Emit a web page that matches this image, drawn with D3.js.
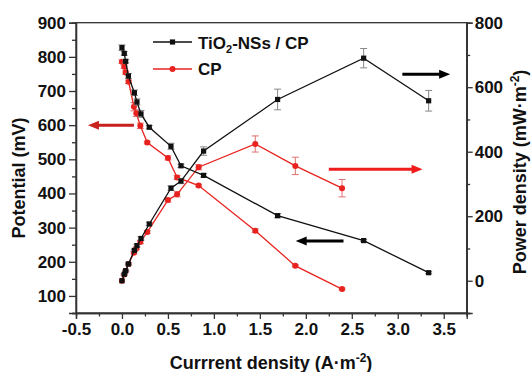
<!DOCTYPE html>
<html>
<head>
<meta charset="utf-8">
<script src="https://cdn.jsdelivr.net/npm/d3@7/dist/d3.min.js"></script>
<style>
  html, body { margin: 0; padding: 0; background: #fff; }
  svg { display: block; }
  text { font-family: "Liberation Sans", Arial, sans-serif; font-weight: bold; fill: #111; }
</style>
</head>
<body>
<svg id="chart" width="531" height="372"></svg>
<script>
// ---------------- data ----------------
const seriesNames = ["TiO2-NSs / CP", "CP"];

const currentT   = [0, 0.025, 0.04, 0.07, 0.135, 0.163, 0.207, 0.297, 0.533, 0.642, 0.888, 1.693, 2.629, 3.336];
const potentialT = [827, 810, 787, 744, 695, 668, 633, 594, 538, 481, 453, 335, 262, 168];
const potErrT    = [8, 5, 5, 7, 8, 9, 10, 5, 9, 5, 5, 6, 3, 3];
const powerT     = [0, 20, 31, 52, 94, 109, 131, 176, 287, 309, 402, 562, 690, 558];
const powErrT    = [0, 2, 2, 3, 4, 4, 5, 5, 7, 8, 13, 32, 30, 32];

const currentC   = [0, 0.025, 0.04, 0.072, 0.13, 0.156, 0.2, 0.275, 0.5, 0.6, 0.834, 1.45, 1.886, 2.394];
const potentialC = [786, 771, 754, 727, 654, 635, 598, 549, 504, 447, 423, 291, 188, 120];
const potErrC    = [5, 5, 5, 5, 12, 10, 8, 4, 6, 6, 4, 5, 3, 3];
const powerC     = [0, 19, 30, 52, 87, 100, 120, 151, 250, 268, 352, 424, 356, 287];
const powErrC    = [0, 2, 2, 3, 4, 4, 5, 5, 6, 8, 8, 25, 27, 27];

const xTicks      = [-0.5, 0, 0.5, 1.0, 1.5, 2.0, 2.5, 3.0, 3.5];
const xMinorTicks = [-0.25, 0.25, 0.75, 1.25, 1.75, 2.25, 2.75, 3.25, 3.75];
const yLeftTicks  = [100, 200, 300, 400, 500, 600, 700, 800, 900];
const yLeftMinor  = [50, 150, 250, 350, 450, 550, 650, 750, 850];
const yRightTicks = [0, 200, 400, 600, 800];
const yRightMinor = [-100, 100, 300, 500, 700];

// annotation arrows: from x1 to tip x2 at value y on given axis
const arrowX1   = [0.13, 3.05, 2.25, 2.41];
const arrowX2   = [-0.37, 3.57, 3.27, 1.89];
const arrowY    = [600, 640, 346, 261];
const arrowAxis = ["left", "right", "right", "left"];
const arrowCol  = ["#c8211e", "#000000", "#ee1c1c", "#000000"];

// ---------------- layout ----------------
const svg = d3.select("#chart");
const L = 76, R = 466.7, T = 22.7, B = 313;
const BLACK = "#111111", RED = "#e8231f";

const x  = d3.scaleLinear().domain([-0.5, 3.75]).range([L, R]);
const yL = d3.scaleLinear().domain([50, 900]).range([B, T]);
const yR = d3.scaleLinear().domain([-100, 800]).range([B, T]);

const fmtX = v => d3.format(".1f")(v).replace("\u2212", "-");

// frame
svg.append("rect").attr("x", L).attr("y", T).attr("width", R - L).attr("height", B - T)
  .attr("fill", "none").attr("stroke", "#333").attr("stroke-width", 1.3);

function styleAxis(g) {
  g.select(".domain").attr("stroke", "#333").attr("stroke-width", 1.3);
  g.selectAll(".tick line").attr("stroke", "#333").attr("stroke-width", 1.3);
  g.selectAll(".tick text").style("font-size", "17px").style("font-weight", "bold").attr("fill", "#111");
}

// x axis
const gx = svg.append("g").attr("transform", `translate(0,${B})`)
  .call(d3.axisBottom(x).tickValues(xTicks).tickFormat(fmtX).tickSize(6).tickPadding(4));
styleAxis(gx);
const gxm = svg.append("g").attr("transform", `translate(0,${B})`)
  .call(d3.axisBottom(x).tickValues(xMinorTicks).tickFormat("").tickSize(3.5));
styleAxis(gxm);

// left axis
const gl = svg.append("g").attr("transform", `translate(${L},0)`)
  .call(d3.axisLeft(yL).tickValues(yLeftTicks).tickFormat(d3.format("d")).tickSize(7).tickPadding(3));
styleAxis(gl);
const glm = svg.append("g").attr("transform", `translate(${L},0)`)
  .call(d3.axisLeft(yL).tickValues(yLeftMinor).tickFormat("").tickSize(4));
styleAxis(glm);

// right axis
const gr = svg.append("g").attr("transform", `translate(${R},0)`)
  .call(d3.axisRight(yR).tickValues(yRightTicks).tickFormat(d3.format("d")).tickSize(6).tickPadding(2));
styleAxis(gr);
const grm = svg.append("g").attr("transform", `translate(${R},0)`)
  .call(d3.axisRight(yR).tickValues(yRightMinor).tickFormat("").tickSize(3.5));
styleAxis(grm);

// ---------------- series ----------------
function drawSeries(xs, ys, errs, yScale, color, errColor, marker) {
  const pts = xs.map((v, i) => ({ x: v, y: ys[i], e: errs[i] }));
  const g = svg.append("g");
  // error bars
  const eb = g.selectAll(".eb").data(pts.filter(d => d.e > 0)).enter().append("g")
    .attr("stroke", errColor).attr("stroke-width", 1);
  eb.append("line").attr("x1", d => x(d.x)).attr("x2", d => x(d.x))
    .attr("y1", d => yScale(d.y - d.e)).attr("y2", d => yScale(d.y + d.e));
  eb.append("line").attr("x1", d => x(d.x) - 3.5).attr("x2", d => x(d.x) + 3.5)
    .attr("y1", d => yScale(d.y - d.e)).attr("y2", d => yScale(d.y - d.e));
  eb.append("line").attr("x1", d => x(d.x) - 3.5).attr("x2", d => x(d.x) + 3.5)
    .attr("y1", d => yScale(d.y + d.e)).attr("y2", d => yScale(d.y + d.e));
  // line
  g.append("path").datum(pts)
    .attr("d", d3.line().x(d => x(d.x)).y(d => yScale(d.y)))
    .attr("fill", "none").attr("stroke", color).attr("stroke-width", 1.3);
  // markers
  if (marker === "square") {
    g.selectAll(".m").data(pts).enter().append("rect")
      .attr("x", d => x(d.x) - 2.6).attr("y", d => yScale(d.y) - 2.6)
      .attr("width", 5.2).attr("height", 5.2).attr("fill", color);
  } else {
    g.selectAll(".m").data(pts).enter().append("circle")
      .attr("cx", d => x(d.x)).attr("cy", d => yScale(d.y)).attr("r", 3).attr("fill", color);
  }
}

drawSeries(currentC, potentialC, potErrC, yL, RED, "#e07070", "circle");
drawSeries(currentC, powerC, powErrC, yR, RED, "#e07070", "circle");
drawSeries(currentT, potentialT, potErrT, yL, BLACK, "#888", "square");
drawSeries(currentT, powerT, powErrT, yR, BLACK, "#888", "square");

// ---------------- arrows ----------------
arrowX1.forEach((x1v, i) => {
  const ys = arrowAxis[i] === "left" ? yL : yR;
  const yy = ys(arrowY[i]);
  const xa = x(x1v), xb = x(arrowX2[i]);
  const dir = xb > xa ? 1 : -1;
  const head = 11;
  svg.append("line").attr("x1", xa).attr("x2", xb - dir * head + dir * 1).attr("y1", yy).attr("y2", yy)
    .attr("stroke", arrowCol[i]).attr("stroke-width", 3);
  svg.append("path")
    .attr("d", `M${xb},${yy} L${xb - dir * head},${yy - 4.5} L${xb - dir * head},${yy + 4.5} Z`)
    .attr("fill", arrowCol[i]);
});

// ---------------- legend ----------------
const legY = [42, 69];
const legCol = [BLACK, RED];
legY.forEach((ly, i) => {
  svg.append("line").attr("x1", 153).attr("x2", 192).attr("y1", ly).attr("y2", ly)
    .attr("stroke", legCol[i]).attr("stroke-width", 1.3);
  if (i === 0) {
    svg.append("rect").attr("x", 172.5 - 2.6).attr("y", ly - 2.6).attr("width", 5.2).attr("height", 5.2).attr("fill", legCol[i]);
  } else {
    svg.append("circle").attr("cx", 172.5).attr("cy", ly).attr("r", 3).attr("fill", legCol[i]);
  }
});
const t1 = svg.append("text").attr("x", 198).attr("y", 48.5).style("font-size", "17px");
t1.append("tspan").text("TiO");
t1.append("tspan").attr("dy", 4).style("font-size", "11px").text("2");
t1.append("tspan").attr("dy", -4).text("-NSs / CP");
svg.append("text").attr("x", 198).attr("y", 75).style("font-size", "17px").text(seriesNames[1]);

// ---------------- axis titles ----------------
svg.append("text").attr("transform", "translate(25,178) rotate(-90)")
  .attr("text-anchor", "middle").style("font-size", "18px").text("Potential (mV)");

const rt = svg.append("text").attr("transform", "translate(526,172) rotate(-90)")
  .attr("text-anchor", "middle").style("font-size", "18px");
rt.append("tspan").text("Power density (mW\u00B7m");
rt.append("tspan").attr("dy", -7).style("font-size", "12px").text("-2");
rt.append("tspan").attr("dy", 7).text(")");

const bt = svg.append("text").attr("x", 271).attr("y", 369)
  .attr("text-anchor", "middle").style("font-size", "18px");
bt.append("tspan").text("Currrent density (A\u00B7m");
bt.append("tspan").attr("dy", -7).style("font-size", "12px").text("-2");
bt.append("tspan").attr("dy", 7).text(")");
</script>
</body>
</html>
